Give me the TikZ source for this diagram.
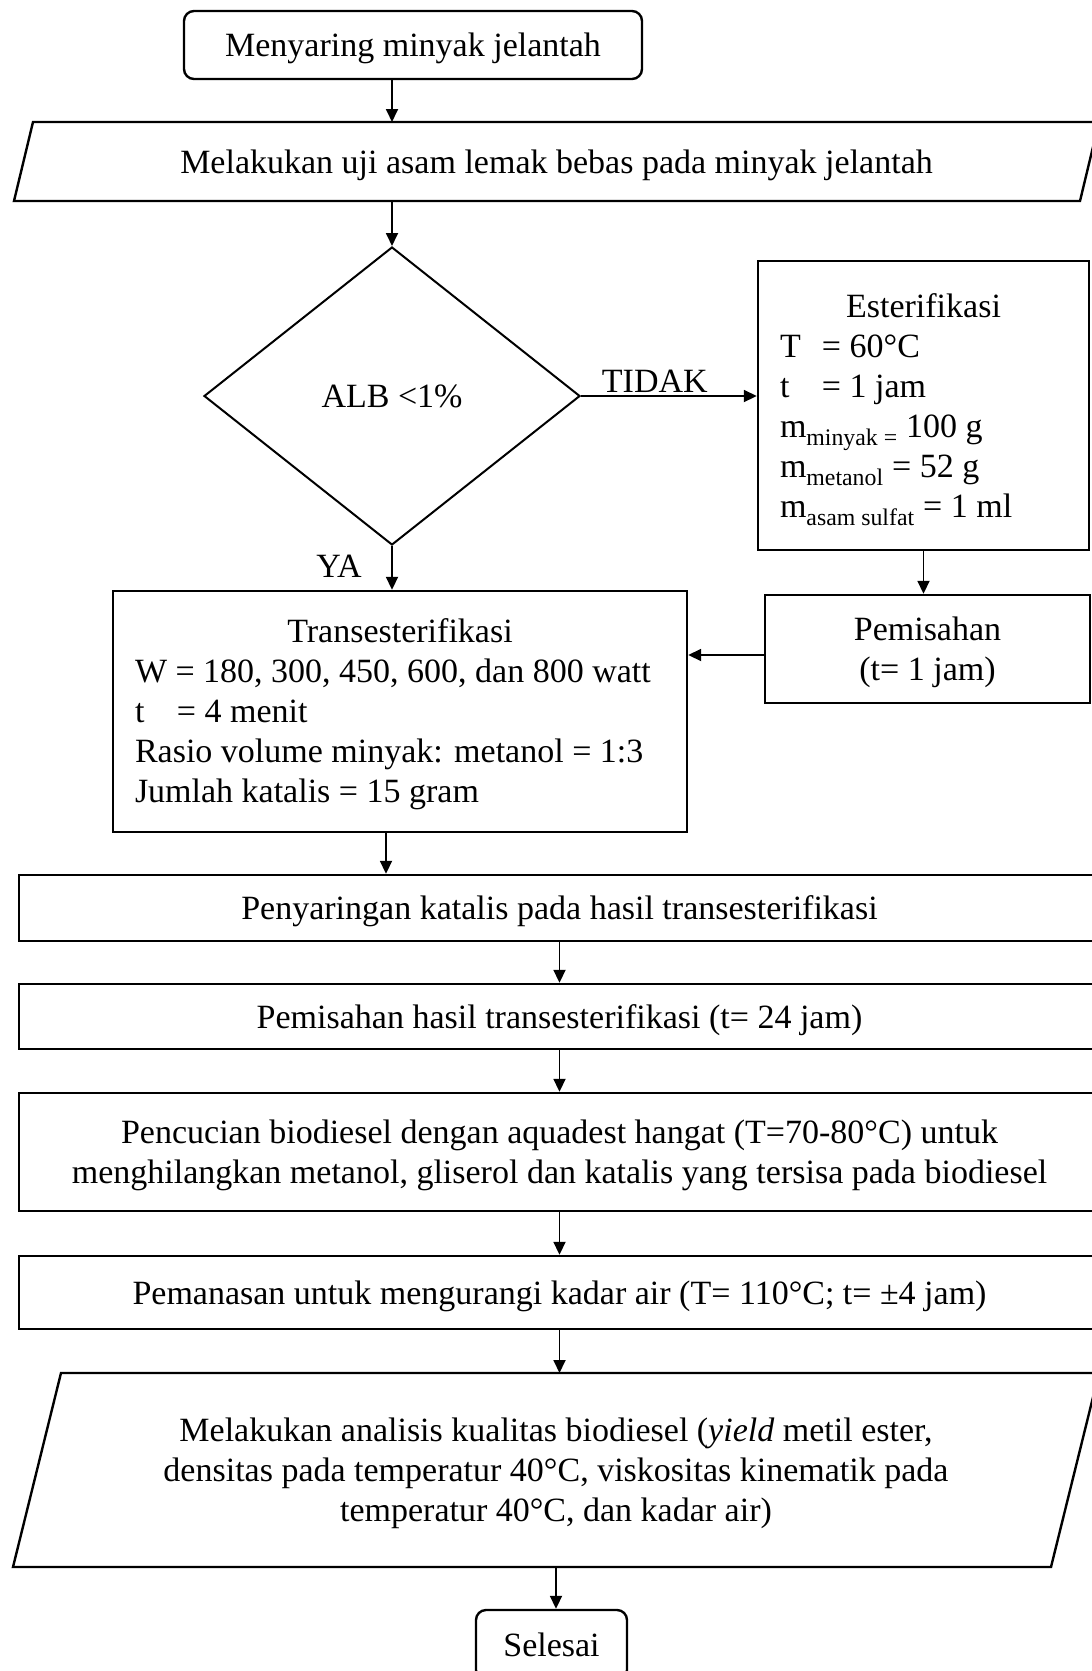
\documentclass[tikz,border=0pt]{standalone}
\usepackage{fontspec}
\setmainfont{Liberation Serif}
\usetikzlibrary{shapes.geometric,arrows.meta}
\tikzset{pnode/.style = {shape = rectangle,
                                    draw,
                                    line width = 2.4pt,
                                    inner sep = 0pt,
                                    text depth = 0pt,
                                    align = center},
         lnode/.style = {pnode,
                                    text depth = {}},
         tnode/.style = {pnode,
                                    rounded corners = 10pt},
         ionode/.style = {shape = rectangle,
                                    inner sep = 0pt,
                                    outer sep = 0pt,
                                    text depth = 0pt,
                                    align = center},
         iobox/.style = {draw,
                                    line width = 2.4pt,
                                    line join = miter},
         dnode/.style = {shape = diamond,
                                    draw,
                                    line width = 2pt,
                                    aspect = 1.26,
                                    inner sep = 0pt},
         flow/.style = {draw,
                                    line width = 1.8pt,
                                    -{Triangle[length=13pt,width=12pt]}}}

\begin{document}
\begin{tikzpicture}[x=1pt, y=-1pt, font=\fontsize{34}{40}\selectfont]
		\useasboundingbox (0,0) rectangle (1092,1671);
		\clip (0,0) rectangle (1092,1671);
		\node[tnode, minimum width=458, minimum height=68] (start) at (413,45) {Menyaring minyak jelantah};
		\node[ionode, minimum width=1066, minimum height=79] (in1) at (556.5,161.5) {Melakukan uji asam lemak bebas pada minyak jelantah};
		\draw[iobox] ([xshift=9.5pt]in1.north west) -- ([xshift=9.5pt]in1.north east) -- ([xshift=-9.5pt]in1.south east) -- ([xshift=-9.5pt]in1.south west) -- cycle;
		\node[dnode, minimum width=376, minimum height=298] (alb) at (392,396) {ALB <1\%};
		\node[lnode, minimum width=331, minimum height=289] (est) at (923.5,405.5)
			{\begin{minipage}{287pt}\vspace*{8pt}\raggedright
			\makebox[\linewidth]{Esterifikasi}\\
			\makebox[42pt][l]{T}= 60°C\\
			\makebox[42pt][l]{t}= 1 jam\\
			m\textsubscript{minyak =} 100 g\\
			m\textsubscript{metanol} = 52 g\\
			m\textsubscript{asam sulfat} = 1 ml
			\end{minipage}};
		\node[pnode, minimum width=325, minimum height=108] (pem) at (927.5,649) {Pemisahan\\(t= 1 jam)};
		\node[lnode, minimum width=574, minimum height=241] (trans) at (400,711.5)
			{\begin{minipage}{530pt}\vspace*{6pt}\raggedright
			\makebox[\linewidth]{Transesterifikasi}\\
			W = 180, 300, 450, 600, dan 800 watt\\
			\makebox[42pt][l]{t}= 4 menit\\
			Rasio volume minyak: metanol = 1:3\\
			Jumlah katalis = 15 gram
			\end{minipage}};
		\node[pnode, minimum width=1081, minimum height=66] (saring) at (559.5,908) {Penyaringan katalis pada hasil transesterifikasi};
		\node[pnode, minimum width=1081, minimum height=65] (hasil) at (559.5,1016.5) {Pemisahan hasil transesterifikasi (t= 24 jam)};
		\node[pnode, minimum width=1081, minimum height=118] (cuci) at (559.5,1152) {Pencucian biodiesel dengan aquadest hangat (T=70-80°C) untuk\\menghilangkan metanol, gliserol dan katalis yang tersisa pada biodiesel};
		\node[pnode, minimum width=1081, minimum height=73] (panas) at (559.5,1292.5) {Pemanasan untuk mengurangi kadar air (T= 110°C; t= ±4 jam)};
		\node[ionode, minimum width=1038, minimum height=194] (in2) at (556,1470) {Melakukan analisis kualitas biodiesel (\textit{yield} metil ester,\\densitas pada temperatur 40°C, viskositas kinematik pada\\temperatur 40°C, dan kadar air)};
		\draw[iobox] ([xshift=24pt]in2.north west) -- ([xshift=24pt]in2.north east) -- ([xshift=-24pt]in2.south east) -- ([xshift=-24pt]in2.south west) -- cycle;
		\node[tnode, minimum width=151, minimum height=70] (fin) at (551.5,1645) {Selesai};
		\coordinate (pemout) at ([yshift=-6pt]pem.west);
		\coordinate (transout) at ([xshift=-14pt]trans.south);
		\path (start.south -| alb.north) edge[flow] (in1.north -| alb.north);
		\path (in1.south -| alb.north) edge[flow] (alb.north);
		\path (alb.east) edge[flow] node[above, pos=.42, inner sep=3pt] (tidak) {TIDAK} (alb.east -| est.west);
		\path (alb.south) edge[flow] node[left=26pt, pos=.46] (ya) {YA} (alb.south |- trans.north);
		\path (est.south) edge[flow] (est.south |- pem.north);
		\path (pemout) edge[flow] (pemout -| trans.east);
		\path (transout) edge[flow] (transout |- saring.north);
		\path (saring.south) edge[flow] (hasil.north);
		\path (hasil.south) edge[flow] (cuci.north);
		\path (cuci.south) edge[flow] (panas.north);
		\path (panas.south) edge[flow] (panas.south |- in2.north);
		\path (in2.south) edge[flow] (in2.south |- fin.north);
	\end{tikzpicture}
\end{document}
